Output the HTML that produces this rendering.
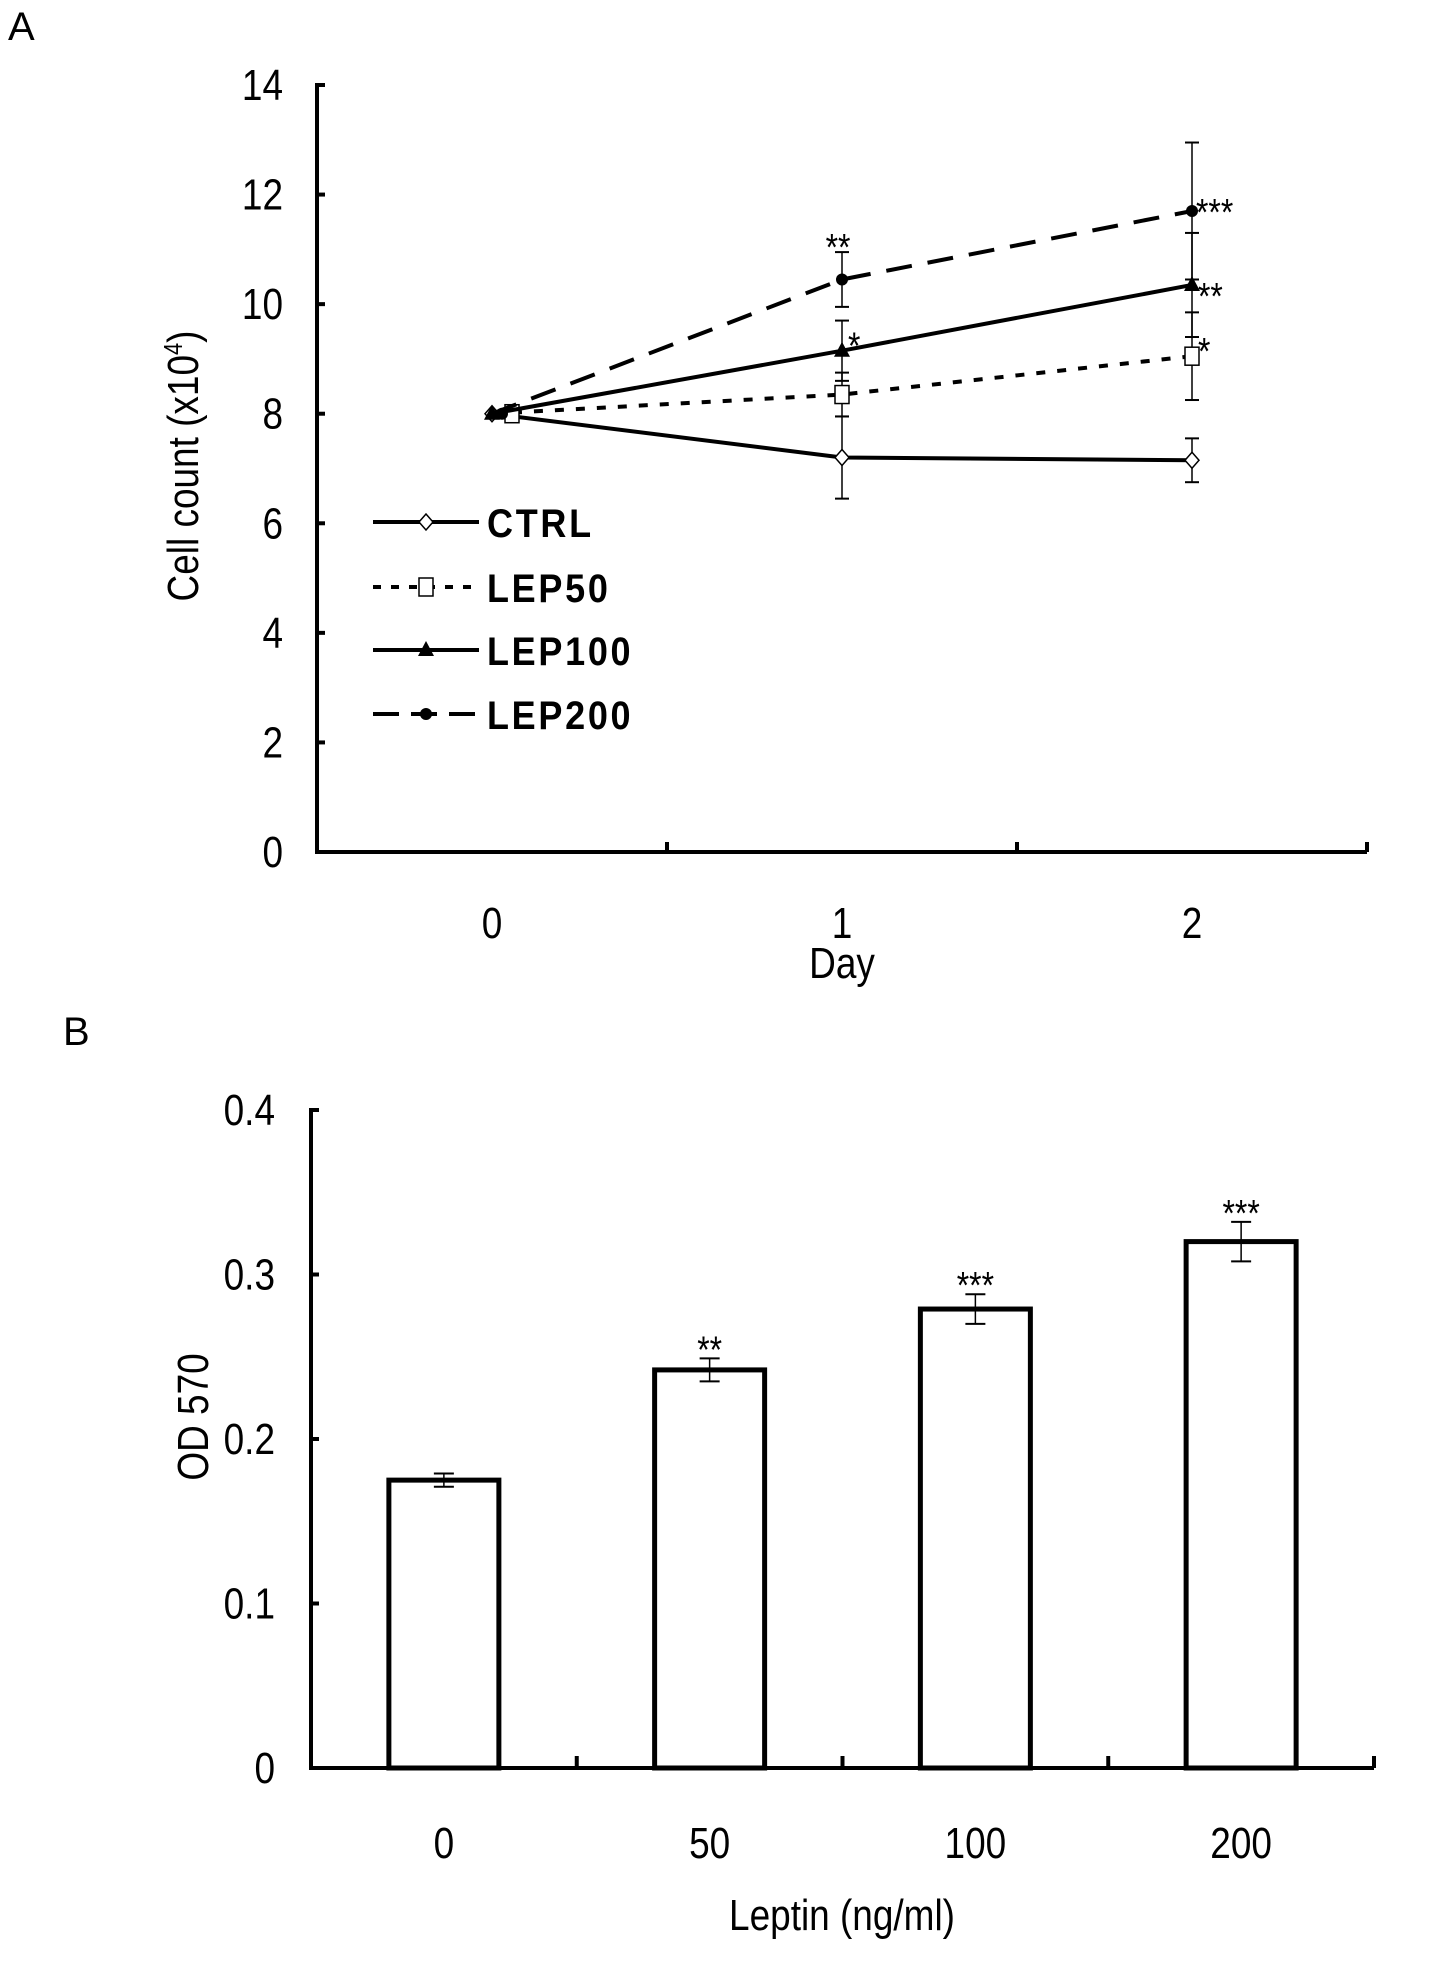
<!DOCTYPE html>
<html><head><meta charset="utf-8"><style>
html,body{margin:0;padding:0;background:#fff}
svg text{font-family:"Liberation Sans",Arial,sans-serif;fill:#000}
</style></head><body>
<svg id="fig" width="1441" height="1957" viewBox="0 0 1441 1957" xmlns="http://www.w3.org/2000/svg">
<text x="8" y="40" font-size="40">A</text>
<text x="63" y="1045" font-size="40">B</text>
<g id="chartA"></g>
<g id="chartB"></g>
</svg>
<script>
// ---- Chart A data ----
const daysA = ["0","1","2"];
const ctrlVals = [8, 7.2, 7.15];
const ctrlErr = [0, 0.75, 0.4];
const lep50Vals = [8, 8.35, 9.05];
const lep50Err = [0, 0.4, 0.8];
const lep100Vals = [8, 9.15, 10.35];
const lep100Err = [0, 0.55, 0.95];
const lep200Vals = [8, 10.45, 11.7];
const lep200Err = [0, 0.5, 1.25];
const yTicksA = [0,2,4,6,8,10,12,14];
const starsA = [["","",""],["","","*"],["","*","**"],["","**","***"]];
// ---- Chart B data ----
const catsB = ["0","50","100","200"];
const odVals = [0.175, 0.242, 0.279, 0.32];
const odErr = [0.004, 0.007, 0.009, 0.012];
const starsB = ["", "**", "***", "***"];
const yTicksB = [0, 0.1, 0.2, 0.3, 0.4];

const NS="http://www.w3.org/2000/svg";
function mk(parent,tag,attrs,txt){const e=document.createElementNS(NS,tag);for(const k in attrs)e.setAttribute(k,attrs[k]);if(txt!==undefined)e.textContent=txt;parent.appendChild(e);return e;}
const FS=44, SQ=0.84;
function tx(parent,x,y,size,anchor,str,rot){
  const t=rot?`translate(${x},${y}) rotate(-90) scale(${SQ},1)`:`translate(${x},${y}) scale(${SQ},1)`;
  return mk(parent,'text',{x:0,y:0,'font-size':size,'text-anchor':anchor,transform:t},str);
}

// ===== Chart A =====
(function(){
const g=document.getElementById('chartA');
const x0=317,x1=1367,y0=852,yTop=85,band=(x1-x0)/3;
const ys=v=>y0-(v/14)*(y0-yTop);
const xs=i=>x0+band/2+band*i;
let e;
e=mk(g,'line',{x1:x0,y1:yTop-2,x2:x0,y2:y0+2,stroke:'#000','stroke-width':4});


e=mk(g,'line',{x1:x0-2,y1:y0,x2:x1,y2:y0,stroke:'#000','stroke-width':4});


yTicksA.forEach(t=>{
  mk(g,'line',{x1:x0,y1:ys(t),x2:x0+8,y2:ys(t),stroke:'#000','stroke-width':4});
  e=tx(g,x0-34,ys(t)+15,FS,'end',String(t));
  
  
});
for(let i=1;i<=3;i++){mk(g,'line',{x1:x0+band*i,y1:y0,x2:x0+band*i,y2:y0-10,stroke:'#000','stroke-width':4});}
daysA.forEach((d,i)=>{
  e=tx(g,xs(i),y0+86,FS,'middle',d);
  
  
});
e=tx(g,842,978,FS,'middle','Day');


e=tx(g,198,466,FS,'middle','',true);


e.innerHTML='Cell count (x10<tspan dy="-16" font-size="26">4</tspan><tspan dy="16">)</tspan>';
const series=[
 {name:'ctrl',v:ctrlVals,err:ctrlErr,dash:'',marker:'diamond'},
 {name:'lep50',v:lep50Vals,err:lep50Err,dash:'9,12',marker:'square'},
 {name:'lep100',v:lep100Vals,err:lep100Err,dash:'',marker:'triangle'},
 {name:'lep200',v:lep200Vals,err:lep200Err,dash:'26,16',marker:'circle'}];
function marker(p,type,x,y){
  if(type==='diamond') return mk(p,'polygon',{points:`${x},${y-8} ${x+7},${y} ${x},${y+8} ${x-7},${y}`,fill:'#fff',stroke:'#000','stroke-width':1.5});
  if(type==='square') return mk(p,'rect',{x:x-7,y:y-9,width:14,height:18,fill:'#fff',stroke:'#000','stroke-width':1.5});
  if(type==='triangle') return mk(p,'polygon',{points:`${x},${y-9} ${x+8},${y+6} ${x-8},${y+6}`,fill:'#000'});
  return mk(p,'circle',{cx:x,cy:y,r:6,fill:'#000'});
}
series.forEach((s,si)=>{
  const sg=mk(g,'g',{});
  
  
  const pts=s.v.map((v,i)=>xs(i)+','+ys(v)).join(' ');
  const pl=mk(sg,'polyline',{points:pts,fill:'none',stroke:'#000','stroke-width':4});
  if(s.dash)pl.setAttribute('stroke-dasharray',s.dash);
  s.v.forEach((v,i)=>{
    if(s.err[i]>0){
      const x=xs(i),a=ys(v+s.err[i]),b=ys(v-s.err[i]);
      mk(sg,'line',{x1:x,y1:a,x2:x,y2:b,stroke:'#000','stroke-width':1.5});
      mk(sg,'line',{x1:x-7,y1:a,x2:x+7,y2:a,stroke:'#000','stroke-width':2});
      mk(sg,'line',{x1:x-7,y1:b,x2:x+7,y2:b,stroke:'#000','stroke-width':2});
    }
    const m=marker(sg,s.marker,xs(i)+(i===0?(si===1?20:si===3?10:0):0),ys(v));
    
    
    const st=starsA[si][i];
    if(st){
      let px,py,anchor='start';
      if(si===3&&i===1){px=xs(i)-4;py=ys(v+s.err[i])-8;anchor='middle';}
      else if(si===3){px=xs(i)+4;py=ys(v)-2;}
      else if(si===2&&i===2){px=xs(i)+6;py=ys(v)+8;}
      else{px=xs(i)+6;py=ys(v)-8;}
      const t=tx(sg,px,py+16,38,anchor,st);
      
      
    }
  });
  // legend
  const ly=[522,587,650,714][si];
  const lg=mk(g,'g',{});
  
  
  const ll=mk(lg,'line',{x1:373,y1:ly,x2:479,y2:ly,stroke:'#000','stroke-width':4});
  if(s.dash)ll.setAttribute('stroke-dasharray',si===1?'8,10':'26,12');
  marker(lg,s.marker,426,ly);
  mk(lg,'text',{x:0,y:0,'font-size':40,'font-weight':'bold','letter-spacing':3,transform:`translate(487,${ly+15}) scale(0.9,1)`},['CTRL','LEP50','LEP100','LEP200'][si]);
});
})();

// ===== Chart B =====
(function(){
const g=document.getElementById('chartB');
const x0=311,x1=1374,y0=1768,yTop=1110,band=(x1-x0)/4,bw=110;
const ys=v=>y0-(v/0.4)*(y0-yTop);
const xs=i=>x0+band/2+band*i;
let e;
odVals.forEach((v,i)=>{
  const r=mk(g,'rect',{x:xs(i)-bw/2,y:ys(v),width:bw,height:y0-ys(v),fill:'#fff',stroke:'#000','stroke-width':5});
  
  
  const x=xs(i),a=ys(v+odErr[i]),b=ys(v-odErr[i]);
  mk(g,'line',{x1:x,y1:a,x2:x,y2:b,stroke:'#000','stroke-width':1.5});
  mk(g,'line',{x1:x-10,y1:a,x2:x+10,y2:a,stroke:'#000','stroke-width':2});
  mk(g,'line',{x1:x-10,y1:b,x2:x+10,y2:b,stroke:'#000','stroke-width':2});
  if(starsB[i]){
    e=tx(g,x,a+4,38,'middle',starsB[i]);
    
    
  }
  e=tx(g,x,y0+90,FS,'middle',catsB[i]);
  
  
});
e=mk(g,'line',{x1:x0,y1:yTop-2,x2:x0,y2:y0+2,stroke:'#000','stroke-width':4});


e=mk(g,'line',{x1:x0-2,y1:y0,x2:x1,y2:y0,stroke:'#000','stroke-width':4});


yTicksB.forEach(t=>{
  mk(g,'line',{x1:x0,y1:ys(t),x2:x0+8,y2:ys(t),stroke:'#000','stroke-width':4});
  e=tx(g,x0-36,ys(t)+15,FS,'end',t===0?'0':t.toFixed(1));
  
  
});
for(let i=1;i<=4;i++){mk(g,'line',{x1:x0+band*i,y1:y0,x2:x0+band*i,y2:y0-12,stroke:'#000','stroke-width':4});}
e=tx(g,842,1930,FS,'middle','Leptin (ng/ml)');


e=tx(g,208,1417,FS,'middle','OD 570',true);


})();
</script>
</body></html>
